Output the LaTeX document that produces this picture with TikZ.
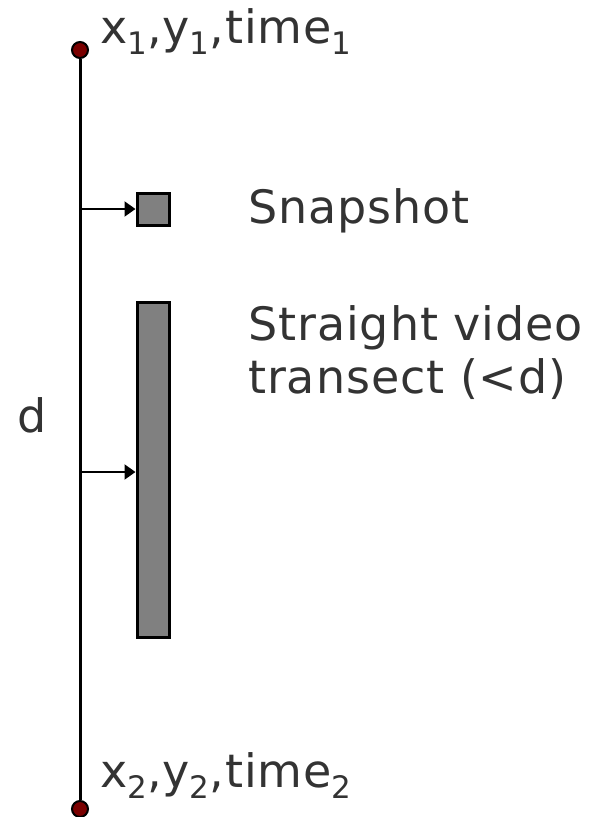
\documentclass[tikz,border=0pt]{standalone}
\usepackage{fontspec}
\setmainfont{DejaVu Sans}[LetterSpace=2]
\usetikzlibrary{arrows.meta}
\definecolor{txt}{HTML}{333333}
\definecolor{dotred}{HTML}{7A0000}
\newcommand{\sbs}[1]{\raisebox{-11pt}{\fontsize{31}{33}\selectfont #1}}
\tikzset{
  lbl/.style={anchor=base west, inner sep=0pt, text=txt, font=\fontsize{46}{54}\selectfont},
  endpt/.style={circle, draw=black, line width=2pt, fill=dotred, minimum size=16pt, inner sep=0pt},
  boxg/.style={draw=black, line width=3pt, fill=gray, inner sep=0pt},
  arr/.style={line width=2pt, -{Triangle[length=11pt,width=15pt]}}
}
\begin{document}
\begin{tikzpicture}[x=1pt,y=-1pt]
\useasboundingbox (0,0) rectangle (593,817);
\node[endpt] (top) at (80,50) {};
\node[endpt] (bot) at (80,809) {};
\draw[line width=3pt] (top) -- (bot);
\node[boxg, minimum width=32pt, minimum height=32pt] (snap) at (153,209) {};
\node[boxg, minimum width=32pt, minimum height=335pt] (tran) at (153,469.5) {};
\coordinate (a1) at (80,209);
\coordinate (a2) at (80,472);
\draw[arr] (a1) -- (snap.west);
\draw[arr] (a2) -- (tran.west |- a2);
\node[lbl] (l1) at (100,43) {x\sbs{1},y\sbs{1},time\sbs{1}};
\node[lbl] (l2) at (100,787) {x\sbs{2},y\sbs{2},time\sbs{2}};
\node[lbl] (ls) at (248,223) {Snapshot};
\node[lbl] (lt) at (248,340) {Straight video};
\node[lbl] (lt2) at (248,393) {transect (<d)};
\node[lbl] (ld) at (17,432) {d};
\end{tikzpicture}
\end{document}
